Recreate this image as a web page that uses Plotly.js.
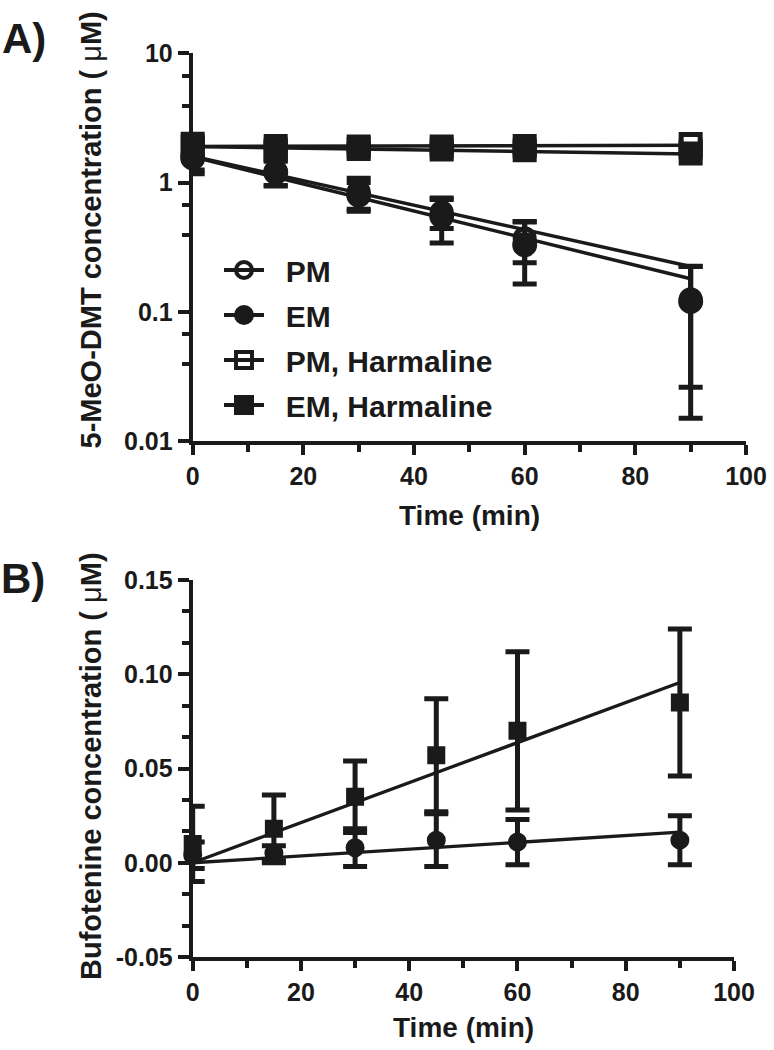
<!DOCTYPE html>
<html>
<head>
<meta charset="utf-8">
<script src="https://cdn.plot.ly/plotly-3.0.1.min.js"></script>
<style>html,body{margin:0;padding:0;background:#fff;}#chart{width:774px;height:1050px;}</style>
</head>
<body>
<div id="chart"></div>
<script>
// ---------- Panel A: 5-MeO-DMT (log scale) ----------
const timeA = [0, 15, 30, 45, 60, 90];
const pmMeanA  = [1.65, 1.22, 0.85, 0.59, 0.37, 0.125];
const pmSdA    = [0.40, 0.27, 0.23, 0.15, 0.13, 0.099];
const emMeanA  = [1.55, 1.20, 0.80, 0.55, 0.33, 0.12];
const emSdA    = [0.38, 0.26, 0.20, 0.21, 0.166, 0.105];
const pmhMeanA = [2.00, 1.92, 1.90, 1.90, 1.92, 1.99];
const pmhSdA   = [0.15, 0.15, 0.10, 0.10, 0.10, 0.10];
const emhMeanA = [1.90, 1.80, 1.82, 1.80, 1.78, 1.68];
const emhSdA   = [0.25, 0.20, 0.10, 0.10, 0.08, 0.10];
const fitTimeA = [0, 90];
const pmFitA   = [1.60, 0.224];
const emFitA   = [1.58, 0.18];
const pmhFitA  = [1.90, 1.94];
const emhFitA  = [1.90, 1.66];
const yTickValsA = [0.01, 0.1, 1, 10];
const yTickTextA = ['0.01', '0.1', '1', '10'];
const yMinorA = [0.0394, 0.0668, 0.394, 0.668, 3.94, 6.68];

// ---------- Panel B: Bufotenine (linear) ----------
const timeB = [0, 15, 30, 45, 60, 90];
const emMeanB  = [0.004, 0.005, 0.008, 0.012, 0.011, 0.012];
const emSdB    = [0.007, 0.004, 0.010, 0.014, 0.012, 0.013];
const emhMeanB = [0.010, 0.018, 0.035, 0.057, 0.070, 0.085];
const emhSdB   = [0.020, 0.018, 0.019, 0.030, 0.042, 0.039];
const fitTimeB = [0, 90];
const emFitB   = [0.0, 0.0162];
const emhFitB  = [0.0, 0.0956];
const yTickValsB = [-0.05, 0, 0.05, 0.10, 0.15];
const yTickTextB = ['-0.05', '0.00', '0.05', '0.10', '0.15'];

const xTickVals = [0, 20, 40, 60, 80, 100];
const legendNames = ['PM', 'EM', 'PM, Harmaline', 'EM, Harmaline'];

const INK = '#1a1a1a';
const FONT = 'Liberation Sans, Arial, Helvetica, sans-serif';

function fitLine(x, y, xa, ya, w) {
  return {x: x, y: y, xaxis: xa, yaxis: ya, mode: 'lines', showlegend: false,
          hoverinfo: 'skip', line: {color: INK, width: w}};
}
function points(x, y, sd, xa, ya, symbol, filled, size) {
  return {x: x, y: y, xaxis: xa, yaxis: ya, mode: 'markers', showlegend: false, cliponaxis: false,
          marker: {symbol: symbol, size: filled ? size : size - 4,
                   color: filled ? INK : '#ffffff',
                   line: {color: INK, width: filled ? 2 : 5}},
          error_y: {type: 'data', array: sd, visible: true, color: INK, thickness: 5, width: 12}};
}
function legendItem(name, symbol, group) {
  return {x: [null], y: [null], xaxis: 'x', yaxis: 'y', mode: 'lines+markers',
          name: '\u00a0\u00a0' + name,
          legendgroup: group, line: {color: INK, width: 4},
          marker: {symbol: symbol, size: 16, color: INK, line: {color: INK, width: 4}}};
}

const traces = [
  fitLine(fitTimeA, pmFitA, 'x', 'y', 3.5),
  fitLine(fitTimeA, emFitA, 'x', 'y', 3.5),
  fitLine(fitTimeA, pmhFitA, 'x', 'y', 3.5),
  fitLine(fitTimeA, emhFitA, 'x', 'y', 3.5),
  points(timeA, pmMeanA, pmSdA, 'x', 'y', 'circle', false, 23),
  points(timeA, pmhMeanA, pmhSdA, 'x', 'y', 'square', false, 23),
  points(timeA, emMeanA, emSdA, 'x', 'y', 'circle', true, 23),
  points(timeA, emhMeanA, emhSdA, 'x', 'y', 'square', true, 22),
  fitLine(fitTimeB, emFitB, 'x2', 'y2', 3.3),
  fitLine(fitTimeB, emhFitB, 'x2', 'y2', 3.3),
  points(timeB, emMeanB, emSdB, 'x2', 'y2', 'circle', true, 17),
  points(timeB, emhMeanB, emhSdB, 'x2', 'y2', 'square', true, 16),
  legendItem(legendNames[0], 'circle-open', 'g1'),
  legendItem(legendNames[1], 'circle', 'g2'),
  legendItem(legendNames[2], 'square-open', 'g3'),
  legendItem(legendNames[3], 'square', 'g4')
];

const W = 774, H = 1050;
const px = v => v / W;
const py = v => 1 - v / H;

const axisCommon = {
  showline: true, linecolor: INK, linewidth: 4, mirror: false,
  showgrid: false, zeroline: false,
  ticks: 'outside', ticklen: 10, tickwidth: 4, tickcolor: INK,
  tickfont: {family: FONT, size: 25, color: INK, weight: 700},
  fixedrange: true
};

const layout = {
  width: W, height: H,
  margin: {l: 0, r: 0, t: 0, b: 0},
  paper_bgcolor: '#ffffff', plot_bgcolor: '#ffffff',
  font: {family: FONT, color: INK, weight: 700},
  showlegend: true,
  legend: {x: px(219), y: py(244), xanchor: 'left', yanchor: 'top', itemwidth: 40,
           bgcolor: 'rgba(0,0,0,0)', borderwidth: 0, tracegroupgap: 3,
           font: {family: FONT, size: 30, color: INK, weight: 700}},
  xaxis: Object.assign({}, axisCommon, {
    domain: [px(192.7), px(746)], anchor: 'y', range: [0, 100],
    tickmode: 'array', tickvals: xTickVals,
    minor: {dtick: 10, tick0: 0, ticks: 'outside', ticklen: 7, tickwidth: 4, tickcolor: INK}
  }),
  yaxis: Object.assign({}, axisCommon, {
    domain: [py(441), py(53.3)], anchor: 'x', type: 'log', range: [-2, 1],
    tickmode: 'array', tickvals: yTickValsA, ticktext: yTickTextA, ticklen: 11,
    minor: {tickmode: 'array', tickvals: yMinorA, ticks: 'outside', ticklen: 7, tickwidth: 4, tickcolor: INK}
  }),
  xaxis2: Object.assign({}, axisCommon, {
    domain: [px(192.7), px(734)], anchor: 'y2', range: [0, 100],
    tickmode: 'array', tickvals: xTickVals,
    minor: {dtick: 10, tick0: 0, ticks: 'outside', ticklen: 7, tickwidth: 4, tickcolor: INK}
  }),
  yaxis2: Object.assign({}, axisCommon, {
    domain: [py(957), py(580)], anchor: 'x2', range: [-0.05, 0.15],
    tickmode: 'array', tickvals: yTickValsB, ticktext: yTickTextB, ticklen: 11,
    minor: {dtick: 0.05 / 3, tick0: 0, ticks: 'outside', ticklen: 7, tickwidth: 4, tickcolor: INK}
  }),
  annotations: [
    {text: 'A)', x: px(24), y: py(38), xref: 'paper', yref: 'paper', showarrow: false,
     xanchor: 'center', yanchor: 'middle', font: {family: FONT, size: 42, color: INK, weight: 700}},
    {text: 'B)', x: px(23), y: py(578), xref: 'paper', yref: 'paper', showarrow: false,
     xanchor: 'center', yanchor: 'middle', font: {family: FONT, size: 42, color: INK, weight: 700}},
    {text: "5-MeO-DMT concentration ( <span style='font-weight:normal'>\u03bc</span>M)",
     x: px(91), y: py(10), xref: 'paper', yref: 'paper', showarrow: false, textangle: -90,
     xanchor: 'center', yanchor: 'top', font: {family: FONT, size: 29, color: INK, weight: 700}},
    {text: "Bufotenine concentration ( <span style='font-weight:normal'>\u03bc</span>M)",
     x: px(91), y: py(550), xref: 'paper', yref: 'paper', showarrow: false, textangle: -90,
     xanchor: 'center', yanchor: 'top', font: {family: FONT, size: 29, color: INK, weight: 700}},
    {text: 'Time (min)', x: px(469), y: py(515), xref: 'paper', yref: 'paper', showarrow: false,
     xanchor: 'center', yanchor: 'middle', font: {family: FONT, size: 28, color: INK, weight: 700}},
    {text: 'Time (min)', x: px(463.4), y: py(1027), xref: 'paper', yref: 'paper', showarrow: false,
     xanchor: 'center', yanchor: 'middle', font: {family: FONT, size: 28, color: INK, weight: 700}}
  ]
};

Plotly.newPlot('chart', traces, layout, {staticPlot: true, displayModeBar: false});
</script>
</body>
</html>
